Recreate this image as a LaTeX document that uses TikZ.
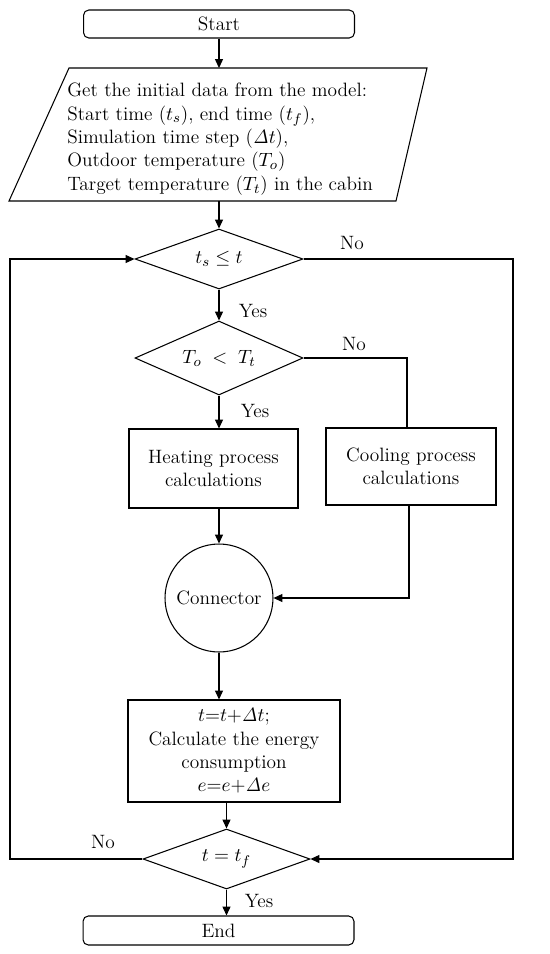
\documentclass[tikz,border=0pt]{standalone}
\usetikzlibrary{shapes.geometric,arrows.meta}
\begin{document}
\begin{tikzpicture}[x=0.02cm,y=-0.02cm,
  every node/.style={font=\fontsize{11}{13.3}\selectfont},
  line/.style={line width=0.6pt},
  arr/.style={line width=0.6pt,-{Triangle[length=5pt,width=4.5pt]}},
  term/.style={draw,line width=0.6pt,rounded corners=3pt,minimum width=5.42cm,minimum height=0.56cm,inner sep=0pt},
  procbox/.style={draw,line width=0.6pt,align=center,inner sep=0pt},
  decision/.style={draw,line width=0.6pt,diamond,inner sep=0pt},
  lbl/.style={inner sep=0pt}]
\useasboundingbox (0,0) rectangle (550,954);

% nodes
\node[term] (start) at (219,24) {Start};
\draw[line] (69,68) -- (427,68) -- (396,201) -- (9,201) -- cycle;
\coordinate (inTop) at (219,68);
\coordinate (inBot) at (219,201);
\node[align=left,anchor=west,inner sep=0pt] (input) at (67,139)
  {Get the initial data from the model:\\
   Start time ($t_s$), end time ($t_f$),\\
   Simulation time step ($\mathit{\Delta} t$),\\
   Outdoor temperature ($T_o$)\\
   Target temperature ($T_t$) in the cabin};
\node[decision,aspect=2.8,minimum width=3.36cm,minimum height=1.2cm] (d1) at (219,259) {$t_s \le t$};
\node[decision,aspect=2.27,minimum width=3.36cm,minimum height=1.48cm] (d2) at (219,358) {$T_o \;<\; T_t$};
\node[procbox,minimum width=3.38cm,minimum height=1.58cm] (heat) at (213.5,468.5) {Heating process\\calculations};
\node[procbox,minimum width=3.4cm,minimum height=1.54cm] (cool) at (411,466.5) {Cooling process\\calculations};
\node[draw,line width=0.6pt,circle,minimum size=2.16cm,inner sep=0pt] (conn) at (219,598) {Connector};
\node[procbox,minimum width=4.24cm,minimum height=2.04cm] (energy) at (234,751)
  {$t{=}t{+}\mathit{\Delta} t$;\\Calculate the energy\\consumption\\$e{=}e{+}\mathit{\Delta} e$};
\node[decision,aspect=2.78,minimum width=3.34cm,minimum height=1.2cm] (d3) at (226.5,859) {$t = t_f$};
\node[term,minimum height=0.58cm] (end) at (218.5,930.5) {End};

\coordinate (lx) at (10,859);
\coordinate (rx) at (513,259);
\coordinate (cx) at (409,598);

% labels
\node[lbl] (no1) at (352,243) {No};
\node[lbl] (yes1) at (253,311) {Yes};
\node[lbl] (no2) at (354,344) {No};
\node[lbl] (yes2) at (255,411) {Yes};
\node[lbl] (no3) at (103,842) {No};
\node[lbl] (yes3) at (259,901) {Yes};

% connectors
\draw[arr] (start.south) -- (inTop);
\draw[arr] (inBot) -- (d1.north);
\draw[arr] (d1.south) -- (d2.north);
\draw[arr] (d2.south) -- (d2.south |- heat.north);
\draw[line] (d2.east) -| ([xshift=-0.08cm]cool.north);
\draw[arr] (conn.north |- heat.south) -- (conn.north);
\draw[arr] (cool.south -| cx) -- (cx) -- (conn.east);
\draw[arr] (conn.south) -- (conn.south |- energy.north);
\draw[arr] (d3.north |- energy.south) -- (d3.north);
\draw[arr] (d3.south) -- (d3.south |- end.north);
\draw[arr] (d3.west) -- (lx) |- (d1.west);
\draw[arr] (d1.east) -- (rx) |- (d3.east);
\end{tikzpicture}
\end{document}
